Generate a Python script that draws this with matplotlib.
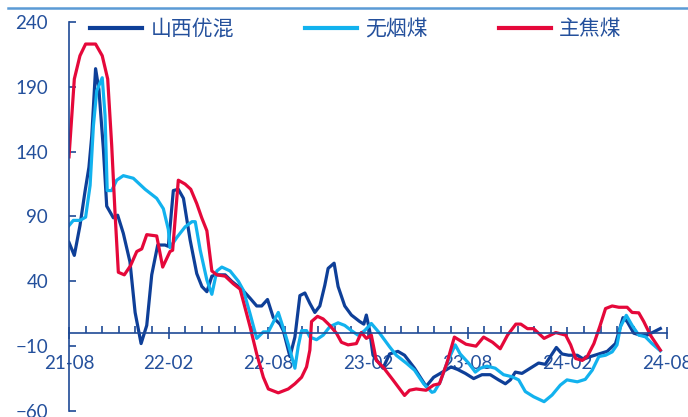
import matplotlib
matplotlib.use("Agg")
import matplotlib.pyplot as plt
from matplotlib.lines import Line2D
from matplotlib.ticker import MultipleLocator

plt.rcParams['font.family'] = ['Lato', 'Noto Sans CJK SC', 'DejaVu Sans']

# x 轴: 自 2021-08 起的月数
tick_pos = [0, 6, 12, 18, 24, 30, 36]
tick_labels = ['21-08', '22-02', '22-08', '23-02', '23-08', '24-02', '24-08']

# 山西优混
sx_m = [0, 0.32, 0.66, 0.96, 1.2, 1.37, 1.6, 1.8, 2.07, 2.27, 2.67, 2.93, 3.27, 3.67, 3.98,
        4.34, 4.68, 4.98, 5.34, 5.78, 5.98, 6.28, 6.58, 6.89, 7.29, 7.69, 8.0, 8.3, 8.6, 8.9,
        9.4, 9.8, 10.4, 10.9, 11.3, 11.6, 11.95, 12.3, 12.7, 12.9, 13.3, 13.6, 13.9, 14.2,
        14.5, 14.8, 15.1, 15.4, 15.6, 15.96, 16.2, 16.6, 17.0, 17.5, 17.75, 17.9, 18.1, 18.3,
        18.9, 19.3, 19.8, 20.2, 20.8, 21.5, 21.95, 22.35, 23.0, 23.4, 23.86, 24.36, 24.86,
        25.36, 25.86, 26.27, 26.57, 26.87, 27.27, 27.77, 28.27, 28.67, 28.98, 29.34, 29.68,
        30.08, 30.6, 30.98, 31.4, 31.9, 32.4, 32.9, 33.1, 33.35, 33.6, 34.0, 34.4, 34.8,
        35.2, 35.6]
sx_v = [70, 60, 83, 109, 128, 152, 204, 188, 142, 98, 89, 91, 77, 55, 16,
        -8, 6, 45, 68, 68, 67, 110, 111, 104, 72, 46, 36, 32, 44, 45,
        45, 40, 34, 27, 21, 21, 26, 12, 7, 2, -18, -3, 29, 31,
        23, 16, 21, 37, 50, 54, 36, 21, 14, 9, 7, 14, 2, -17,
        -27, -16, -14, -17, -27, -41, -34, -31, -26, -28, -31, -35, -32,
        -32, -36, -39, -36, -30, -31, -27, -23, -24, -18, -11, -16,
        -17, -17, -20, -18, -16, -14, -8, 1, 12, 9, 0, -1.5, -1.5,
        1, 3.6]

# 无烟煤
wy_m = [0, 0.26, 0.66, 1.0, 1.27, 1.47, 1.67, 2.0, 2.17, 2.3, 2.57, 2.87, 3.27, 3.87, 4.58,
        5.28, 5.68, 5.98, 6.08, 6.5, 6.99, 7.4, 7.6, 7.9, 8.3, 8.6, 8.9, 9.2, 9.7, 10.2,
        10.5, 10.9, 11.3, 11.7, 12.0, 12.2, 12.6, 13.0, 13.3, 13.6, 13.8, 14.0, 14.3, 14.5,
        14.9, 15.3, 15.7, 16.2, 16.6, 17.0, 17.4, 17.8, 18.2, 18.7, 19.3, 19.7, 20.3, 20.8,
        21.35, 21.85, 22.0, 22.35, 22.75, 23.25, 23.55, 24.05, 24.46, 24.76, 25.16, 25.66,
        26.16, 26.67, 27.07, 27.47, 27.97, 28.6, 29.08, 29.58, 29.98, 30.6, 31.08, 31.5,
        31.9, 32.3, 32.7, 32.99, 33.2, 33.55, 33.9, 34.3, 34.7, 35.1, 35.6]
wy_v = [83, 87, 87, 89.5, 114, 160, 187, 197, 168, 110, 110, 118, 121.5, 119.5, 111,
        104, 96, 80, 66, 74, 82, 86, 86, 64, 41, 30, 48, 51, 48, 40,
        33, 15, -4, 1, 1, 6, 16, 0, -13, -27, -10, 2, 2, -3,
        -5, -1.5, 5, 8, 6, 2, -1.5, 2, 7.5, 0, -10.5, -17, -23, -28.5,
        -39, -45.6, -45, -37.5, -23, -9, -16, -23, -30, -27, -25.4, -27,
        -32, -33.6, -36, -45, -49, -52.8, -47.7, -40, -36, -37.5, -35.6, -28.5,
        -18, -17, -14.4, -9, 5, 13.8, 6, -1.5, -2.8, -8, -13.6]

# 主焦煤
zj_m = [0, 0.32, 0.66, 1.0, 1.6, 2.0, 2.33, 2.57, 2.77, 2.97, 3.33, 3.7, 4.08, 4.38, 4.68,
        5.28, 5.64, 6.08, 6.24, 6.58, 6.99, 7.33, 7.69, 7.99, 8.3, 8.6, 8.9, 9.4, 9.9, 10.3,
        10.9, 11.3, 11.7, 12.0, 12.6, 13.2, 13.6, 14.0, 14.3, 14.5, 14.6, 14.96, 15.3, 15.7,
        16.1, 16.4, 16.8, 17.3, 17.6, 17.9, 18.2, 18.5, 18.9, 19.5, 20.2, 20.5, 20.9, 21.5,
        21.95, 22.3, 22.75, 23.2, 23.9, 24.5, 24.96, 25.5, 25.96, 26.4, 26.9, 27.2, 27.6,
        27.97, 28.6, 29.3, 29.9, 30.2, 30.5, 30.9, 31.2, 31.6, 31.95, 32.3, 32.7, 33.1, 33.6,
        33.9, 34.3, 34.6, 35.0, 35.6]
zj_v = [136, 196, 214, 223, 223, 214, 196, 145, 93, 47, 45, 52, 63, 65, 76,
        75, 51, 63, 64, 118, 115, 111, 100, 89, 79, 48, 45, 44, 38, 34,
        5, -16, -34, -43, -46, -43, -39, -34, -26, -13, 9, 13, 11, 6,
        0, -7, -9, -8, 0.5, -4, -1.5, -21, -26, -36, -48, -44, -43, -44,
        -40, -39, -23, -3, -8.5, -10, -3, -7, -12, -1.5, 7, 7, 3.5,
        3.5, -4, 0.5, -1.5, -9, -19.5, -21, -18, -8, 5, 19, 21, 20, 20,
        16, 15.7, 9, -1.5, -13]

text_c = '#24509C'
axis_c = '#1F4A96'

fig = plt.figure(figsize=(6.88, 4.17), dpi=100)
ax = fig.add_axes([69 / 688, 6 / 417, 598 / 688, 389 / 417])

ax.plot(sx_m, sx_v, color='#0E3F98', lw=2.3, label='山西优混')
ax.plot(wy_m, wy_v, color='#12B2EE', lw=2.3, label='无烟煤')
ax.plot(zj_m, zj_v, color='#E5083A', lw=2.3, label='主焦煤')

ax.set_xlim(0, 36)
ax.set_ylim(-60, 240)
ax.set_yticks([-60, -10, 40, 90, 140, 190, 240])

ax.spines['top'].set_visible(False)
ax.spines['right'].set_visible(False)
ax.spines['bottom'].set_position(('data', 0))
ax.spines['left'].set_color(axis_c)
ax.spines['bottom'].set_color(axis_c)
ax.spines['left'].set_linewidth(1.2)
ax.spines['bottom'].set_linewidth(1.2)

ax.set_xticks(tick_pos)
ax.set_xticklabels(tick_labels)
ax.xaxis.set_minor_locator(MultipleLocator(1))
ax.tick_params(axis='x', which='major', direction='inout', length=9, width=1.2,
               color=axis_c, labelcolor=text_c, labelsize=13.5, pad=11)
ax.tick_params(axis='x', which='minor', direction='in', length=5, width=1.2, color=axis_c)
ax.tick_params(axis='y', direction='in', length=5, width=1.2, color=axis_c,
               labelcolor=text_c, labelsize=13.5, pad=15)

leg = ax.legend(ncol=3, loc='center left', bbox_to_anchor=(90 / 688, 1 - 29 / 417),
                bbox_transform=fig.transFigure, frameon=False, fontsize=15,
                handlelength=2.5, handletextpad=0.4, columnspacing=3.4,
                borderpad=0, borderaxespad=0)
for t in leg.get_texts():
    t.set_color(text_c)
for h in leg.get_lines():
    h.set_linewidth(3)

fig.add_artist(Line2D([8 / 688, 1], [1 - 7.5 / 417, 1 - 7.5 / 417], color='#5B9BD5', lw=1.8))

fig.savefig('out.png', dpi=100)
